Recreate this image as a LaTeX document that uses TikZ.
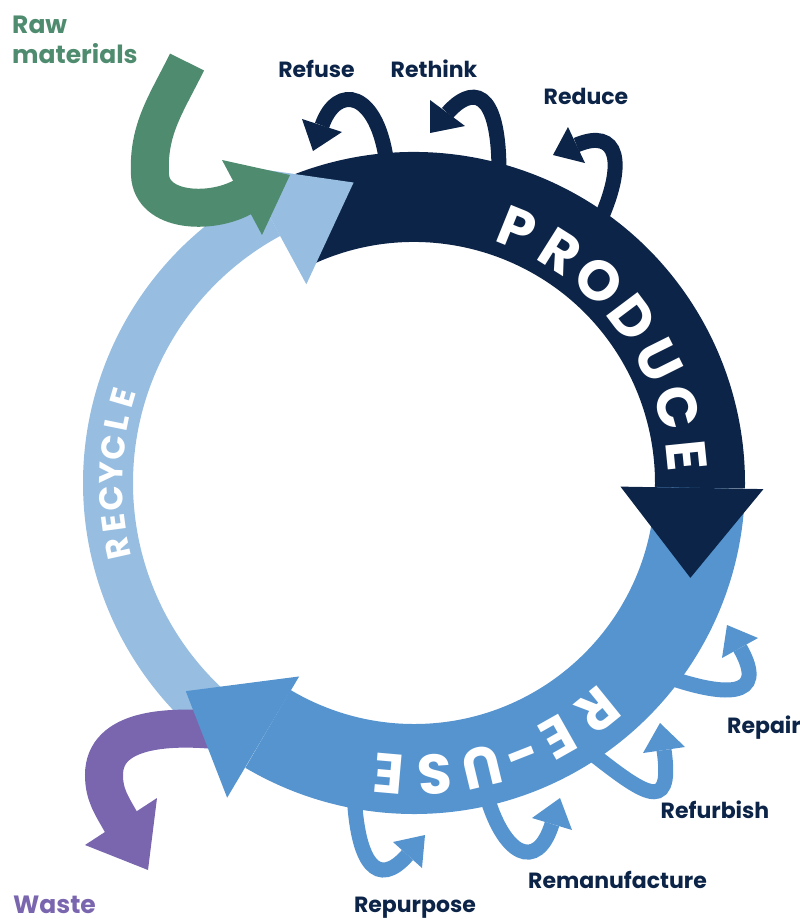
\documentclass[tikz,border=0pt]{standalone}
\usepackage{fontspec}
\setmainfont{Poppins}
\usepackage{tikz}
\definecolor{producenavy}{HTML}{0C2447}
\definecolor{reuseblue}{HTML}{5594CF}
\definecolor{recycleblue}{HTML}{97BEE1}
\definecolor{rawgreen}{HTML}{4F8C6F}
\definecolor{wastepurple}{HTML}{7A66AF}
\tikzset{
  ringband/.style={line width=90pt},
  thinband/.style={line width=50pt},
  feedline/.style={line width=38pt},
  loopline/.style={line width=15pt},
  ringletter/.style={font=\fontsize{56}{56}\selectfont\bfseries,text=white,inner sep=0pt,anchor=base},
  smallletter/.style={font=\fontsize{33}{33}\selectfont\bfseries,text=white,inner sep=0pt,anchor=base},
  rlabel/.style={font=\fontsize{22}{26}\selectfont\bfseries,text=producenavy,inner sep=0pt,anchor=base},
  sidelabel/.style={font=\fontsize{25}{30}\selectfont\bfseries,inner sep=0pt,align=left}
}

\begin{document}
\begin{tikzpicture}[x=1pt,y=1pt]
  \useasboundingbox (0,0) rectangle (800,-921);
  % the three bands of the ring
  \begin{scope}[shift={(414,-483)}]
    \draw[thinband,recycleblue] (232:306) arc[start angle=232,end angle=118.45,radius=306];
    \draw[ringband,producenavy] (118:286) arc[start angle=118,end angle=-1,radius=286];
    \draw[ringband,reuseblue] (-1:286) arc[start angle=-1,end angle=-120.7,radius=286];
  \end{scope}
  % waste leaves the ring
  \draw[feedline,wastepurple] (215,-730) to[out=175,in=90] (104,-775) to[out=-90,in=119.4] (121,-822) -- ++(-60.6:8);
  \fill[wastepurple] (85,-845) -- (157,-798) -- (148,-870) -- cycle;
  % heads of the ring
  \begin{scope}[shift={(414,-483)}]
    \fill[producenavy] (-1:206.5) -- (-1:349.5) -- (-18.94:292.2) -- cycle;
    \fill[reuseblue] (239.3:225) -- (239.3:366) -- (222.36:308.9) -- cycle;
    \fill[recycleblue] (118.45:226) -- (118.45:360) -- (101.37:306.5) -- cycle;
  \end{scope}
  % raw materials come in
  \draw[feedline,rawgreen] (187,-62) to[out=-116,in=93] (150,-175) to[out=-87,in=208] (242,-197.5) -- ++(28:8);
  \fill[rawgreen] (222,-160) -- (262,-235) -- (290,-175) -- cycle;
  % small loops on produce
  \draw[loopline,producenavy] (387,-165) .. controls (378,-90) and (337,-83) .. (322,-125.5);
  \fill[producenavy] (302,-119) -- (342,-132) -- (313,-151) -- cycle;
  \draw[loopline,producenavy] (499,-172) .. controls (499,-85) and (470.6,-86.7) .. (447.5,-113);
  \fill[producenavy] (430,-100) -- (465,-126) -- (430,-133) -- cycle;
  \draw[loopline,producenavy] (598,-225) .. controls (627.6,-161.6) and (617.9,-127.4) .. (576.5,-145);
  \fill[producenavy] (568,-127) -- (585,-163) -- (553,-155) -- cycle;
  % small loops on re-use
  \draw[loopline,reuseblue] (662,-675) .. controls (723,-697) and (769.5,-700) .. (740,-648);
  \fill[reuseblue] (758,-638) -- (722,-658) -- (727,-625) -- cycle;
  \draw[loopline,reuseblue] (585,-748) .. controls (640,-791) and (674,-819) .. (664,-750);
  \fill[reuseblue] (685,-747) -- (643,-753) -- (660,-723) -- cycle;
  \draw[loopline,reuseblue] (485,-790) .. controls (503,-857.6) and (537.4,-871.8) .. (552,-824);
  \fill[reuseblue] (572,-830) -- (532,-818) -- (560,-798) -- cycle;
  \draw[loopline,reuseblue] (354,-790) .. controls (356.6,-865) and (377.8,-888.8) .. (407.5,-855);
  \fill[reuseblue] (393,-842) -- (422,-868) -- (425,-835) -- cycle;
  % words along the ring
  \begin{scope}[shift={(414,-483)}]
    \foreach \ch/\a [count=\i] in {P/68,R/57.8,O/47.6,D/37,U/26.5,C/16,E/5.8}
      \node[ringletter,rotate=\a-90] (produce\i) at (\a:254.4) {\ch};
    \foreach \ch/\a [count=\i] in {R/-51,E/-60.5,-/-68.5,U/-76.5,S/-86,E/-95}
      \node[ringletter,rotate=\a-90] (reuse\i) at (\a:272.4) {\ch};
    \foreach \ch/\a [count=\i] in {R/192.5,E/187.7,C/182.9,Y/178.1,C/173.3,L/168.5,E/163.7}
      \node[smallletter,rotate=\a-90] (recycle\i) at (\a:291.5) {\ch};
  \end{scope}
  % labels
  \node[sidelabel,text=rawgreen,anchor=north west] (raw) at (12,-16) {Raw\\materials};
  \node[sidelabel,text=wastepurple,anchor=base] (waste) at (54.5,-913) {Waste};
  \node[rlabel] (refuse) at (316.5,-77) {Refuse};
  \node[rlabel] (rethink) at (434,-77) {Rethink};
  \node[rlabel] (reduce) at (586,-104) {Reduce};
  \node[rlabel,anchor=base west] (repair) at (727,-733.5) {Repair};
  \node[rlabel] (refurbish) at (715,-818.5) {Refurbish};
  \node[rlabel] (remanufacture) at (617.5,-888) {Remanufacture};
  \node[rlabel] (repurpose) at (415,-912) {Repurpose};
\end{tikzpicture}
\end{document}
